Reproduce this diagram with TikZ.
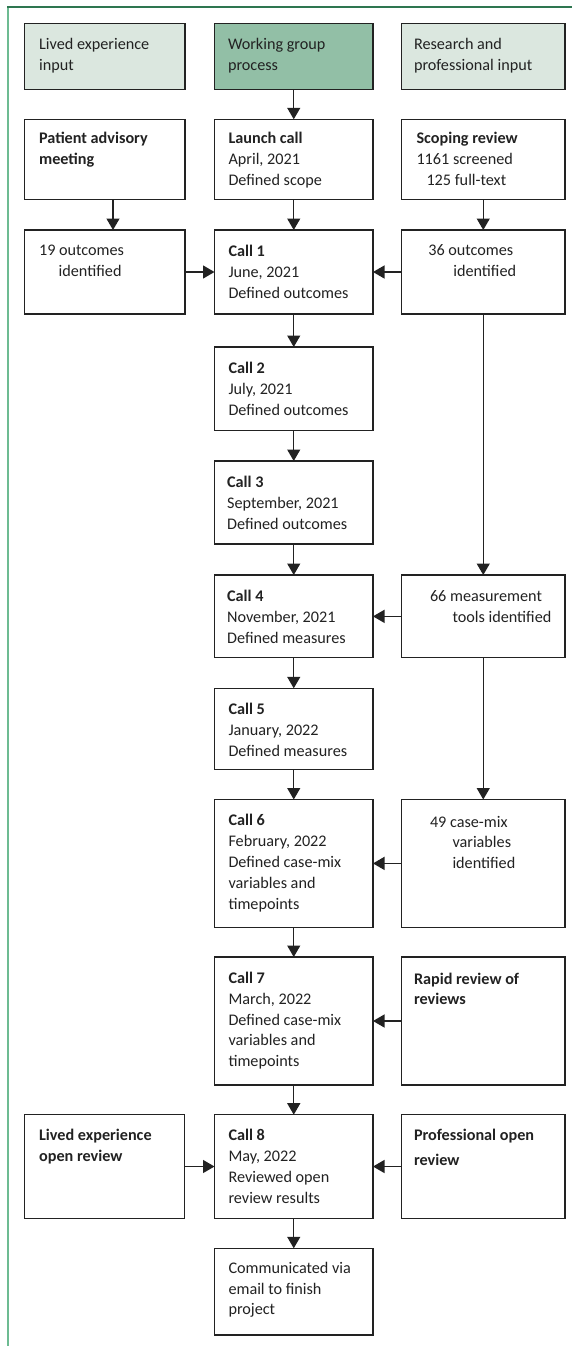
\documentclass[tikz,border=0pt]{standalone}
\usepackage{fontspec}
\setmainfont{Carlito}
\usetikzlibrary{arrows.meta,fit,calc}
\definecolor{frametop}{HTML}{2E7650}
\definecolor{frameleft}{HTML}{6DBB92}
\definecolor{hdrlight}{HTML}{DBE7DF}
\definecolor{hdrdark}{HTML}{92BFA6}
\definecolor{ink}{HTML}{222222}
\tikzset{
  box/.style={draw=ink, line width=1.5pt, inner sep=0pt, outer sep=0pt, fill=white},
  hlight/.style={box, fill=hdrlight},
  hdark/.style={box, fill=hdrdark},
  txt/.style={inner sep=0pt, outer sep=0pt, anchor=north west, align=left, text=ink,
    font=\fontsize{16.2}{20.8}\selectfont},
  arr/.style={draw=ink, line width=1.3pt, -{Triangle[length=11.5pt,width=13pt]}},
}
\begin{document}
\begin{tikzpicture}[x=1pt,y=-1pt]
\useasboundingbox (0,0) rectangle (572,1346);
% frame
\draw[frameleft, line width=1.6pt] (8,7) -- (8,1346);
\draw[frametop, line width=1.6pt] (7.2,7) -- (572,7);

% headers
\node[hlight, fit={(24.5,23.3) (185,89.3)}] (hL) {};
\node[hdark,  fit={(214.5,23.3) (373,89.3)}] (hM) {};
\node[hlight, fit={(401.5,23.3) (565,89.3)}] (hR) {};
\node[txt] (hLt) at ([xshift=14.6pt,yshift=-11.4pt]hL.north west) {\strut Lived experience\\input};
\node[txt] (hMt) at ([xshift=13.5pt,yshift=-11.4pt]hM.north west) {\strut Working group\\process};
\node[txt] (hRt) at ([xshift=12.5pt,yshift=-11.4pt]hR.north west) {\strut Research and\\professional input};

% row 2
\node[box, fit={(24.5,119.3) (185,199.3)}] (pam) {};
\node[box, fit={(214.5,119.3) (373,199.3)}] (launch) {};
\node[box, fit={(401.5,119.3) (565,199.3)}] (scop) {};
\node[txt] (pamt) at ([xshift=14.6pt,yshift=-9.6pt]pam.north west) {\strut\bfseries Patient advisory\\\bfseries meeting};
\node[txt] (launcht) at ([xshift=14pt,yshift=-9.6pt]launch.north west) {\strut\textbf{Launch call}\\April, 2021\\Defined scope};
\node[txt] (scopt) at ([xshift=15pt,yshift=-9.6pt]scop.north west) {\strut\textbf{Scoping review}\\1161 screened\\\hspace*{10pt}125 full-text};

% row 3
\node[box, fit={(24.5,230) (185,314)}] (o19) {};
\node[box, fit={(214.5,230) (373,314)}] (call1) {};
\node[box, fit={(401.5,230) (565,314)}] (o36) {};
\node[txt] (o19t) at ([xshift=14.6pt,yshift=-11.4pt]o19.north west) {\strut 19 outcomes\\\hspace*{19.6pt}identified};
\node[txt] (call1t) at ([xshift=14pt,yshift=-11.9pt]call1.north west) {\strut\textbf{Call 1}\\June, 2021\\Defined outcomes};
\node[txt] (o36t) at ([xshift=26.8pt,yshift=-11.4pt]o36.north west) {\strut 36 outcomes\\\hspace*{25pt}identified};

% call 2, 3
\node[box, fit={(214.5,347) (373,430.7)}] (call2) {};
\node[txt] (call2t) at ([xshift=14pt,yshift=-11.9pt]call2.north west) {\strut\textbf{Call 2}\\July, 2021\\Defined outcomes};
\node[box, fit={(214.5,461) (373,544)}] (call3) {};
\node[txt] (call3t) at ([xshift=12.6pt,yshift=-11.9pt]call3.north west) {\strut\textbf{Call 3}\\September, 2021\\Defined outcomes};

% call 4 / 66
\node[box, fit={(214.5,575) (373,657.7)}] (call4) {};
\node[txt] (call4t) at ([xshift=12.6pt,yshift=-11.9pt]call4.north west) {\strut\textbf{Call 4}\\November, 2021\\Defined measures};
\node[box, fit={(401.5,575) (565,657.7)}] (m66) {};
\node[txt] (m66t) at ([xshift=28.5pt,yshift=-12.4pt]m66.north west) {\strut 66 measurement\\\hspace*{22.5pt}tools identified};

% call 5
\node[box, fit={(214.5,688.3) (373,769.3)}] (call5) {};
\node[txt] (call5t) at ([xshift=14pt,yshift=-11.9pt]call5.north west) {\strut\textbf{Call 5}\\January, 2022\\Defined measures};

% call 6 / 49
\node[box, fit={(214.5,799.5) (373,927.3)}] (call6) {};
\node[txt] (call6t) at ([xshift=14pt,yshift=-11.9pt]call6.north west) {\strut\textbf{Call 6}\\February, 2022\\Defined case-mix\\variables and\\timepoints};
\node[box, fit={(401.5,799.5) (565,927.3)}] (v49) {};
\node[txt] (v49t) at ([xshift=28.5pt,yshift=-13pt]v49.north west) {\strut 49 case-mix\\\hspace*{22.5pt}variables\\\hspace*{22.5pt}identified};

% call 7 / rapid
\node[box, fit={(214.5,957) (373,1085)}] (call7) {};
\node[txt] (call7t) at ([xshift=14pt,yshift=-12pt]call7.north west) {\strut\textbf{Call 7}\\March, 2022\\Defined case-mix\\variables and\\timepoints};
\node[box, fit={(401.5,957) (565,1085)}] (rapid) {};
\node[txt] (rapidt) at ([xshift=12.5pt,yshift=-12.5pt]rapid.north west) {\strut\bfseries Rapid review of\\\bfseries reviews};

% call 8 row
\node[box, fit={(24.5,1114.7) (184.5,1218.3)}] (leo) {};
\node[box, fit={(214.5,1114.7) (373,1218.3)}] (call8) {};
\node[box, fit={(401.5,1114.7) (565,1218.3)}] (prof) {};
\node[txt] (leot) at ([xshift=14.6pt,yshift=-11.4pt]leo.north west) {\strut\bfseries Lived experience\\\bfseries open review};
\node[txt] (call8t) at ([xshift=14pt,yshift=-11.4pt]call8.north west) {\strut\textbf{Call 8}\\May, 2022\\Reviewed open\\review results};
\node[txt] (proft) at ([xshift=12.5pt,yshift=-11.4pt]prof.north west) {\strut\bfseries Professional open\\[4.2pt]\bfseries review};

% final
\node[box, fit={(214.5,1248.3) (373,1335)}] (fin) {};
\node[txt] (fint) at ([xshift=14pt,yshift=-10.4pt]fin.north west) {\strut Communicated via\\email to finish\\project};

% connectors
\coordinate (lx) at (113,0);
\draw[arr] (hM.south) -- (launch.north);
\draw[arr] (pam.south -| lx) -- (o19.north -| lx);
\draw[arr] (launch.south) -- (call1.north);
\draw[arr] (scop.south) -- (o36.north);
\draw[arr] (o19.east) -- (call1.west);
\draw[arr] (o36.west) -- (call1.east);
\draw[arr] (call1.south) -- (call2.north);
\draw[arr] (call2.south) -- (call3.north);
\draw[arr] (call3.south) -- (call4.north);
\draw[arr] (o36.south) -- (m66.north);
\draw[arr] (m66.west) -- (call4.east);
\draw[arr] (call4.south) -- (call5.north);
\draw[arr] (call5.south) -- (call6.north);
\draw[arr] (m66.south) -- (v49.north);
\draw[arr] (v49.west) -- (call6.east);
\draw[arr] (call6.south) -- (call7.north);
\draw[arr] (rapid.west) -- (call7.east);
\draw[arr] (call7.south) -- (call8.north);
\draw[arr] (leo.east) -- (call8.west);
\draw[arr] (prof.west) -- (call8.east);
\draw[arr] (call8.south) -- (fin.north);
\end{tikzpicture}
\end{document}
